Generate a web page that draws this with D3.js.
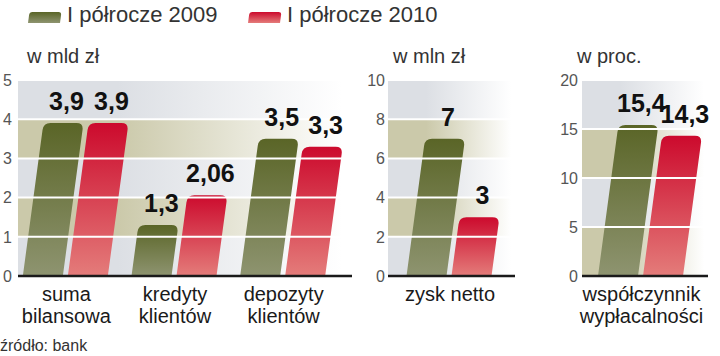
<!DOCTYPE html>
<html>
<head>
<meta charset="utf-8">
<script src="https://cdn.jsdelivr.net/npm/d3@7"></script>
<style>
html,body{margin:0;padding:0;background:#fff;}
svg{display:block;}
text{font-family:"Liberation Sans",Arial,sans-serif;}
</style>
</head>
<body>
<svg id="chart" width="720" height="356"></svg>
<script>
// ---- data ----
const seriesNames = ["I półrocze 2009", "I półrocze 2010"];

const panel1Categories = [["suma", "bilansowa"], ["kredyty", "klientów"], ["depozyty", "klientów"]];
const panel1Values2009 = [3.9, 1.3, 3.5];
const panel1Values2010 = [3.9, 2.06, 3.3];
const panel1Ticks = [0, 1, 2, 3, 4, 5];
const panel1Unit = "w mld zł";

const panel2Categories = [["zysk netto"]];
const panel2Values2009 = [7];
const panel2Values2010 = [3];
const panel2Ticks = [0, 2, 4, 6, 8, 10];
const panel2Unit = "w mln zł";

const panel3Categories = [["współczynnik", "wypłacalności"]];
const panel3Values2009 = [15.4];
const panel3Values2010 = [14.3];
const panel3Ticks = [0, 5, 10, 15, 20];
const panel3Unit = "w proc.";

const sourceText = "źródło: bank";

// ---- layout ----
const svg = d3.select("#chart");
const yTop = 80, yBase = 276;
const skew = 0.135;
const barW = 40, barGap = 5;

const panels = [
  {cats: panel1Categories, v09: panel1Values2009, v10: panel1Values2010, ticks: panel1Ticks, unit: panel1Unit,
   left: 18, right: 352, bandRange: [11, 337], titleX: 27, tickX: 12},
  {cats: panel2Categories, v09: panel2Values2009, v10: panel2Values2010, ticks: panel2Ticks, unit: panel2Unit,
   left: 388, right: 515, bandRange: [395, 503], titleX: 393, tickX: 385},
  {cats: panel3Categories, v09: panel3Values2009, v10: panel3Values2010, ticks: panel3Ticks, unit: panel3Unit,
   left: 582, right: 708, bandRange: [586, 695], titleX: 577, tickX: 578}
];

const defs = svg.append("defs");
function vgrad(id, top, bottom) {
  const g = defs.append("linearGradient").attr("id", id).attr("x1", 0).attr("y1", 0).attr("x2", 0).attr("y2", 1);
  g.append("stop").attr("offset", 0).attr("stop-color", top);
  g.append("stop").attr("offset", 1).attr("stop-color", bottom);
}
vgrad("gGreen", "#5a6527", "#8e9470");
vgrad("gRed", "#cc0a2d", "#e47c7a");
function hgrad(id, col) {
  const g = defs.append("linearGradient").attr("id", id).attr("x1", 0).attr("y1", 0).attr("x2", 1).attr("y2", 0);
  g.append("stop").attr("offset", 0).attr("stop-color", col);
  g.append("stop").attr("offset", 0.3).attr("stop-color", col);
  g.append("stop").attr("offset", 0.97).attr("stop-color", "#ffffff");
}
hgrad("bgGray", "#dcdfe4");
hgrad("bgKhaki", "#cbc9aa");
const fills = ["url(#gGreen)", "url(#gRed)"];
const fmt = v => String(v).replace(".", ",");

// bar with rounded top corners in local coords (x from 0..w, y from 0 up to -h)
function barPath(w, h, r) {
  r = Math.min(r, h, w / 2);
  return `M0,0 L0,${-h + r} Q0,${-h} ${r},${-h} L${w - r},${-h} Q${w},${-h} ${w},${-h + r} L${w},0 Z`;
}
const skewDeg = -Math.atan(skew) * 180 / Math.PI;

panels.forEach((p, pi) => {
  const g = svg.append("g");
  const maxV = d3.max(p.ticks);
  const y = d3.scaleLinear().domain([0, maxV]).range([yBase, yTop]);
  const catKeys = p.cats.map(c => c.join(" "));
  const x0 = d3.scaleBand().domain(catKeys).range(p.bandRange).padding(0);
  const x1 = d3.scaleBand().domain(seriesNames)
    .range([-(barW + barGap / 2), barW + barGap / 2]).paddingInner(barGap / (barW + barGap)).paddingOuter(0);

  // background bands
  const bands = d3.pairs(p.ticks);
  g.selectAll("rect.band").data(bands).join("rect")
    .attr("x", p.left).attr("width", p.right - p.left)
    .attr("y", d => y(d[1])).attr("height", d => y(d[0]) - y(d[1]))
    .attr("fill", (d, i) => ((bands.length - 1 - i) % 2 === 0) ? "url(#bgGray)" : "url(#bgKhaki)");

  // bars
  const rows = [];
  catKeys.forEach((k, ci) => {
    rows.push({cat: k, s: 0, v: p.v09[ci]});
    rows.push({cat: k, s: 1, v: p.v10[ci]});
  });
  g.selectAll("path.bar").data(rows).join("path")
    .attr("d", d => barPath(x1.bandwidth(), yBase - y(d.v), 7))
    .attr("transform", d => `translate(${x0(d.cat) + x0.bandwidth() / 2 + x1(seriesNames[d.s])},${yBase}) skewX(${skewDeg})`)
    .attr("fill", d => fills[d.s]);

  // gridlines (white, over bars)
  g.selectAll("line.grid").data(p.ticks.filter(t => t > 0)).join("line")
    .attr("x1", p.left).attr("x2", p.right)
    .attr("y1", d => y(d)).attr("y2", d => y(d))
    .attr("stroke", "#fff").attr("stroke-width", 2);

  // baseline
  g.append("line").attr("x1", p.left).attr("x2", p.right).attr("y1", yBase).attr("y2", yBase)
    .attr("stroke", "#1a1a1a").attr("stroke-width", 2.5);

  // tick labels
  g.selectAll("text.tick").data(p.ticks).join("text")
    .attr("x", p.tickX).attr("y", d => y(d)).attr("dy", "0.36em")
    .attr("text-anchor", "end").attr("font-size", 16).attr("fill", "#555")
    .text(d => d);

  // value labels
  g.selectAll("text.val").data(rows).join("text")
    .attr("x", d => x0(d.cat) + x0.bandwidth() / 2 + x1(seriesNames[d.s]) + x1.bandwidth() / 2 + skew * (yBase - y(d.v)) + 3)
    .attr("y", d => y(d.v) - 13)
    .attr("text-anchor", "middle").attr("font-size", 25).attr("font-weight", "bold").attr("fill", "#111")
    .text(d => fmt(d.v));

  // category labels
  p.cats.forEach((lines, ci) => {
    const cx = x0(catKeys[ci]) + x0.bandwidth() / 2 + 1;
    g.selectAll(null).data(lines).join("text")
      .attr("x", cx).attr("y", (d, i) => 300.5 + i * 22.5)
      .attr("text-anchor", "middle").attr("font-size", 20).attr("fill", "#1a1a1a")
      .text(d => d);
  });

  // unit title
  g.append("text").attr("x", p.titleX).attr("y", 63).attr("font-size", 20).attr("fill", "#333").text(p.unit);
});

// legend
const legendX = [28, 248];
const lg = svg.selectAll("g.leg").data(seriesNames).join("g")
  .attr("transform", (d, i) => `translate(${legendX[i]},0)`);
lg.append("path")
  .attr("d", barPath(32, 11, 3))
  .attr("transform", `translate(0,23) skewX(${skewDeg})`)
  .attr("fill", (d, i) => fills[i]);
lg.append("text").attr("x", 39).attr("y", 22).attr("font-size", 22).attr("fill", "#333").text(d => d);

// source
svg.append("text").attr("x", 0).attr("y", 351).attr("font-size", 16).attr("fill", "#333").text(sourceText);
</script>
</body>
</html>
